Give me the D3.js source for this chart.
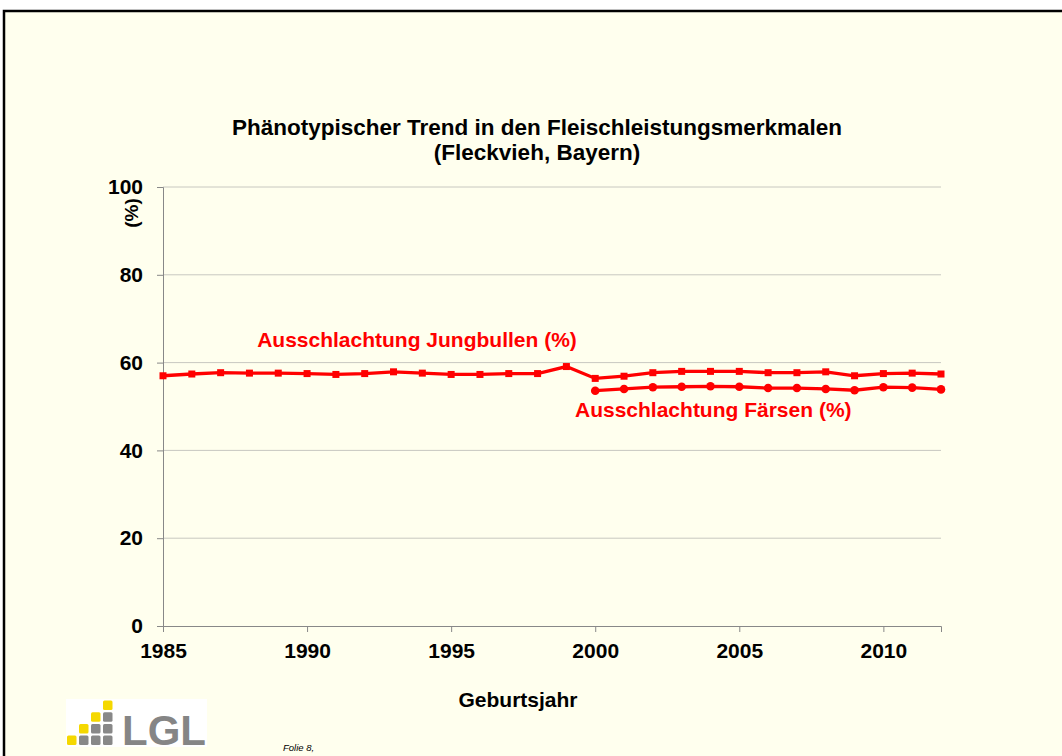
<!DOCTYPE html>
<html>
<head>
<meta charset="utf-8">
<script src="https://cdn.jsdelivr.net/npm/d3@7"></script>
<style>
  body { margin: 0; background: #fff; }
  svg { display: block; font-family: "Liberation Sans", Arial, sans-serif; }
</style>
</head>
<body>
<svg id="chart" width="1062" height="756"></svg>
<script>
// daten
var jahreBullen = [1985,1986,1987,1988,1989,1990,1991,1992,1993,1994,1995,1996,1997,1998,1999,
                   2000,2001,2002,2003,2004,2005,2006,2007,2008,2009,2010,2011,2012];
var jungbullen = [57.0,57.4,57.7,57.6,57.6,57.5,57.3,57.5,57.9,57.6,57.3,57.3,57.5,57.5,59.1,
                  56.4,56.9,57.7,58.0,58.0,58.0,57.7,57.7,57.9,57.0,57.5,57.6,57.4];
var jahreFaersen = [2000,2001,2002,2003,2004,2005,2006,2007,2008,2009,2010,2011,2012];
var faersen = [53.6,54.0,54.4,54.5,54.6,54.5,54.2,54.2,54.0,53.7,54.4,54.3,53.9];
var yTicks = [0,20,40,60,80,100];
var xTicks = [1985,1990,1995,2000,2005,2010];

var svg = d3.select("#chart");

// folie hintergrund + rahmen
svg.append("rect")
  .attr("x", 4).attr("y", 11)
  .attr("width", 1070).attr("height", 760)
  .attr("fill", "#ffffee")
  .attr("stroke", "#000")
  .attr("stroke-width", 2.5);

var margin = {left: 163, top: 187, right: 941, bottom: 626};

var x = d3.scaleLinear().domain([1985, 2012]).range([margin.left, margin.right]);
var y = d3.scaleLinear().domain([0, 100]).range([margin.bottom, margin.top]);

// gitterlinien
svg.append("g")
  .selectAll("line")
  .data(yTicks.filter(d => d > 0))
  .join("line")
    .attr("x1", margin.left).attr("x2", margin.right)
    .attr("y1", d => y(d)).attr("y2", d => y(d))
    .attr("stroke", "#c8c8c0")
    .attr("stroke-width", 1);

// y achse
var yAxis = svg.append("g")
  .attr("transform", "translate(" + margin.left + ",0)")
  .call(d3.axisLeft(y).tickValues(yTicks).tickSize(6).tickPadding(14));
yAxis.select(".domain").attr("stroke", "#888");
yAxis.selectAll(".tick line").attr("stroke", "#888");
yAxis.selectAll(".tick text")
  .attr("font-size", 21).attr("font-weight", "bold").attr("fill", "#000")
  .attr("font-family", "Liberation Sans, Arial, sans-serif");

// x achse
var xAxis = svg.append("g")
  .attr("transform", "translate(0," + margin.bottom + ")")
  .call(d3.axisBottom(x).tickValues(xTicks).tickFormat(d3.format("d")).tickSize(6).tickPadding(11));
xAxis.select(".domain").attr("stroke", "#888");
xAxis.selectAll(".tick line").attr("stroke", "#888");
xAxis.selectAll(".tick text")
  .attr("font-size", 21).attr("font-weight", "bold").attr("fill", "#000")
  .attr("font-family", "Liberation Sans, Arial, sans-serif");

// titel
var titel = svg.append("text")
  .attr("text-anchor", "middle")
  .attr("font-size", 22.5).attr("font-weight", "bold").attr("fill", "#000");
titel.append("tspan").attr("x", 537).attr("y", 134.5).text("Phänotypischer Trend in den Fleischleistungsmerkmalen");
titel.append("tspan").attr("x", 537).attr("y", 160).text("(Fleckvieh, Bayern)");

svg.append("text")
  .attr("transform", "translate(138,213) rotate(-90)")
  .attr("text-anchor", "middle")
  .attr("font-size", 19).attr("font-weight", "bold")
  .text("(%)");

svg.append("text")
  .attr("x", 518).attr("y", 707)
  .attr("text-anchor", "middle")
  .attr("font-size", 21).attr("font-weight", "bold")
  .text("Geburtsjahr");

// linien
var line = d3.line()
  .x(d => x(d[0]))
  .y(d => y(d[1]));

var bullenDaten = jahreBullen.map((j, i) => [j, jungbullen[i]]);
var faersenDaten = jahreFaersen.map((j, i) => [j, faersen[i]]);

svg.append("path")
  .datum(bullenDaten)
  .attr("d", line)
  .attr("fill", "none")
  .attr("stroke", "#ff0000")
  .attr("stroke-width", 3.3);

svg.append("g")
  .selectAll("rect")
  .data(bullenDaten)
  .join("rect")
    .attr("x", d => x(d[0]) - 3.5)
    .attr("y", d => y(d[1]) - 3.5)
    .attr("width", 7).attr("height", 7)
    .attr("fill", "#ff0000");

svg.append("path")
  .datum(faersenDaten)
  .attr("d", line)
  .attr("fill", "none")
  .attr("stroke", "#ff0000")
  .attr("stroke-width", 3.3);

svg.append("g")
  .selectAll("circle")
  .data(faersenDaten)
  .join("circle")
    .attr("cx", d => x(d[0]))
    .attr("cy", d => y(d[1]))
    .attr("r", 4.3)
    .attr("fill", "#ff0000");

// beschriftungen
svg.append("text")
  .attr("x", 417).attr("y", 347)
  .attr("text-anchor", "middle")
  .attr("font-size", 21).attr("font-weight", "bold").attr("fill", "#ff0000")
  .text("Ausschlachtung Jungbullen (%)");

svg.append("text")
  .attr("x", 575).attr("y", 417)
  .attr("font-size", 21).attr("font-weight", "bold").attr("fill", "#ff0000")
  .text("Ausschlachtung Färsen (%)");

// LGL logo
var logo = svg.append("g").attr("transform", "translate(66,699)");
logo.append("rect").attr("width", 141).attr("height", 48).attr("fill", "#fff");
// spalte, zeile, farbe
var kaestchen = [
  [3,0,"#f5d800"],
  [2,1,"#f5d800"],[3,1,"#888"],
  [1,2,"#f5d800"],[2,2,"#888"],[3,2,"#888"],
  [0,3,"#f5d800"],[1,3,"#888"],[2,3,"#888"],[3,3,"#888"]
];
logo.selectAll("rect.k")
  .data(kaestchen)
  .join("rect")
    .attr("class", "k")
    .attr("x", d => 1 + d[0] * 12)
    .attr("y", d => 1.5 + d[1] * 11.7)
    .attr("width", 9.5).attr("height", 9.5)
    .attr("rx", 1.5)
    .attr("fill", d => d[2]);
logo.append("text")
  .attr("x", 56).attr("y", 46)
  .attr("font-size", 42).attr("font-weight", "bold")
  .attr("fill", "#858585")
  .text("LGL");

svg.append("text")
  .attr("x", 283).attr("y", 751)
  .attr("font-size", 9.5).attr("font-style", "italic")
  .text("Folie 8,");
</script>
</body>
</html>
